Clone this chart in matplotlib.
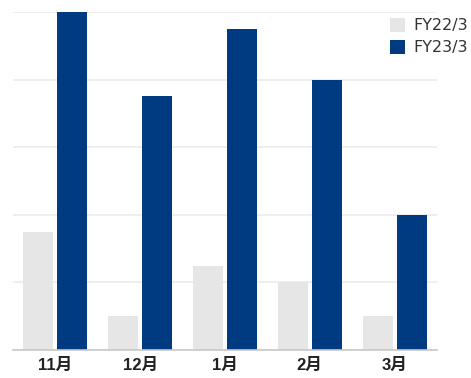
import matplotlib
matplotlib.use("Agg")
import matplotlib.pyplot as plt
import numpy as np

categories = ["11月", "12月", "1月", "2月", "3月"]
fy22 = [3.5, 1.0, 2.5, 2.0, 1.0]
fy23 = [10.0, 7.5, 9.5, 8.0, 4.0]
series_names = ["FY22/3", "FY23/3"]

plt.rcParams['font.family'] = ['DejaVu Sans', 'Noto Sans CJK JP']

fig = plt.figure(figsize=(4.71, 3.78), dpi=100)
ax = fig.add_axes([13/471, 28/378, 424/471, 338/378])

x = np.arange(len(categories))
w = 0.353
gap = 0.047
b1 = ax.bar(x - (w + gap)/2, fy22, width=w, color="#e6e6e6", label=series_names[0], zorder=2)
b2 = ax.bar(x + (w + gap)/2, fy23, width=w, color="#003a80", label=series_names[1], zorder=2)

ax.set_xlim(-0.5, 4.5)
ax.set_ylim(0, 10)
ax.set_yticks(np.arange(0, 11, 2))
ax.yaxis.grid(True, color="#ebebeb", linewidth=1.2, zorder=0)
ax.set_axisbelow(True)
ax.tick_params(axis='y', left=False, labelleft=False)
ax.tick_params(axis='x', bottom=False, pad=2)
ax.set_xticks(x)
ax.set_xticklabels(categories, fontfamily=['Liberation Sans', 'Noto Sans CJK JP'],
                   fontweight='bold', fontsize=12, color="#222222")
for s in ["top", "right", "left"]:
    ax.spines[s].set_visible(False)
ax.spines["bottom"].set_color("#c8c8c8")
ax.spines["bottom"].set_linewidth(1.2)

leg = fig.legend(handles=[b1, b2], labels=series_names, loc="upper left",
                 bbox_to_anchor=(390/471, 1 - 18/378), frameon=False,
                 prop={'family': ['DejaVu Sans'], 'size': 11.5},
                 handlelength=0.95, handleheight=0.95,
                 handletextpad=0.5, labelspacing=0.4, borderaxespad=0,
                 borderpad=0, labelcolor="#333333")

fig.savefig("out.png", dpi=100)
